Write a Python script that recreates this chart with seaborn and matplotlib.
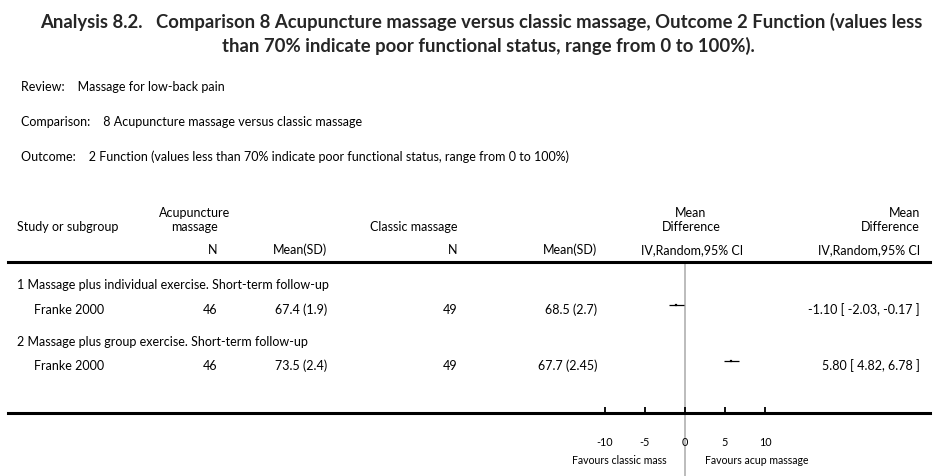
import matplotlib
matplotlib.use("Agg")
import matplotlib.pyplot as plt
import seaborn as sns
import pandas as pd

# ---- data ----
title_lines = ["Analysis 8.2.   Comparison 8 Acupuncture massage versus classic massage, Outcome 2 Function (values less",
               "than 70% indicate poor functional status, range from 0 to 100%)."]
review = "Review:    Massage for low-back pain"
comparison = "Comparison:    8 Acupuncture massage versus classic massage"
outcome = "Outcome:    2 Function (values less than 70% indicate poor functional status, range from 0 to 100%)"

subgroups = ["1 Massage plus individual exercise. Short-term follow-up",
             "2 Massage plus group exercise. Short-term follow-up"]
studies = ["Franke 2000", "Franke 2000"]
n_acup = [46, 46]
msd_acup = ["67.4 (1.9)", "73.5 (2.4)"]
n_classic = [49, 49]
msd_classic = ["68.5 (2.7)", "67.7 (2.45)"]
md = [-1.10, 5.80]
ci_low = [-2.03, 4.82]
ci_high = [-0.17, 6.78]
md_text = ["-1.10 [ -2.03, -0.17 ]", "5.80 [ 4.82, 6.78 ]"]
ticks = [-10, -5, 0, 5, 10]
favours_left = "Favours classic mass"
favours_right = "Favours acup massage"

# ---- layout ----
W, H = 940, 476
sns.set_style("white")
plt.rcParams['font.family'] = ['Lato', 'DejaVu Sans']
fig = plt.figure(figsize=(W / 100, H / 100), dpi=100)

def fx(x):
    return x / W

def fy(y):
    return 1 - y / H

FS = 9

def t(x, y, s, ha="left", **kw):
    fig.text(fx(x), fy(y), s, ha=ha, va="center", fontsize=kw.pop("fontsize", FS), color=kw.pop("color", "black"), **kw)

# title
fig.text(fx(481), fy(22), title_lines[0], ha="center", va="center", fontsize=13.3, fontweight="bold")
fig.text(fx(488), fy(46), title_lines[1], ha="center", va="center", fontsize=13.3, fontweight="bold")

t(21, 87, review)
t(21, 122, comparison)
t(21, 157, outcome)

# header
t(17, 227, "Study or subgroup")
t(195, 213, "Acupuncture", ha="center")
t(195, 227, "massage", ha="center")
t(217, 250, "N", ha="right")
t(327, 250, "Mean(SD)", ha="right")
t(457, 227, "Classic massage", ha="right")
t(457, 250, "N", ha="right")
t(597, 250, "Mean(SD)", ha="right")
t(691, 213, "Mean", ha="center")
t(691, 227, "Difference", ha="center")
t(692, 250, "IV,Random,95% CI", ha="center")
t(920, 213, "Mean", ha="right")
t(920, 227, "Difference", ha="right")
t(920, 250, "IV,Random,95% CI", ha="right")

sub_y = [285, 342]
row_y = [310, 366]
for i in range(2):
    t(17, sub_y[i], subgroups[i])
    t(34, row_y[i], studies[i])
    t(217, row_y[i], str(n_acup[i]), ha="right")
    t(327, row_y[i], msd_acup[i], ha="right")
    t(457, row_y[i], str(n_classic[i]), ha="right")
    t(597, row_y[i], msd_classic[i], ha="right")
    t(920, row_y[i], md_text[i], ha="right")

# forest axes: x pixel = 685 + 8 * value
left_px, right_px, top_px, bot_px = 8, 930, 262, 413
ax = fig.add_axes([fx(left_px), fy(bot_px), (right_px - left_px) / W, (bot_px - top_px) / H])
ax.set_xlim((left_px - 685) / 8, (right_px - 685) / 8)
ax.set_ylim(bot_px, top_px)
ax.patch.set_alpha(0)
for s in ["left", "right"]:
    ax.spines[s].set_visible(False)
for s in ["top", "bottom"]:
    ax.spines[s].set_linewidth(2.2)
    ax.spines[s].set_color("black")
ax.set_yticks([])
ax.set_xticks(ticks)
ax.set_xticklabels([str(v) for v in ticks], fontsize=7.8)
ax.tick_params(axis="x", bottom=True, top=False, direction="in", length=4.5, width=1.3,
               pad=17, colors="black")
ax.axvline(0, ymin=-63 / 151, ymax=1, color="#b0b0b0", lw=1.2, clip_on=False, zorder=0)

df = pd.DataFrame({"md": md, "lo": ci_low, "hi": ci_high, "y": [y - 5 for y in row_y]})
ax.hlines(df["y"], df["lo"], df["hi"], color="black", lw=0.9)
sns.scatterplot(data=df, x="md", y="y", ax=ax, marker="s", s=4, color="black", edgecolor="black", legend=False)
ax.set_xlabel("")
ax.set_ylabel("")

t(619, 460, favours_left, ha="center", fontsize=7.6)
t(757, 460, favours_right, ha="center", fontsize=7.6)

fig.savefig("out.png", dpi=100)
